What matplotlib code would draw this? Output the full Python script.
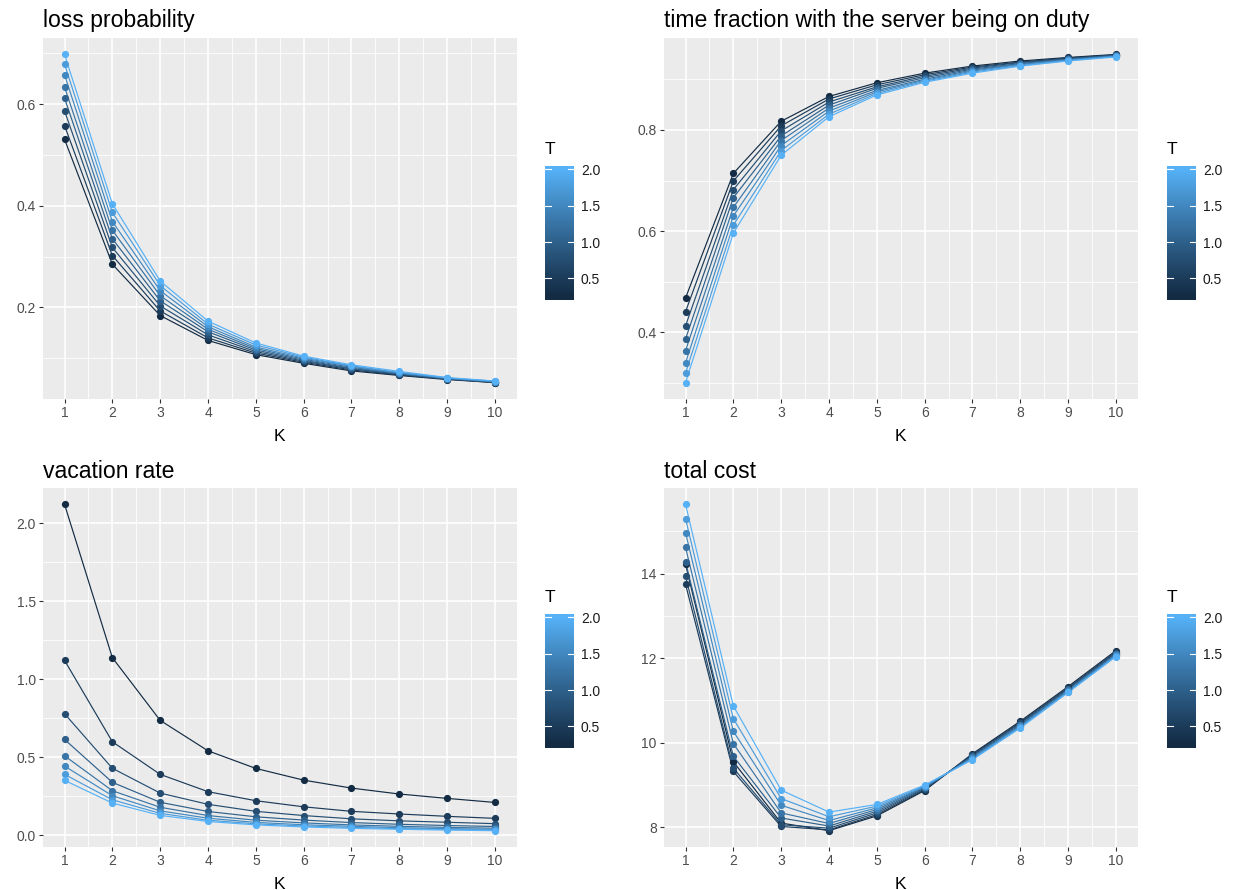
import numpy as np
import matplotlib
matplotlib.use("Agg")
import matplotlib.pyplot as plt
import matplotlib.colors as mcolors
from matplotlib.ticker import FixedLocator, FormatStrFormatter

plt.rcParams['font.family'] = ['Liberation Sans', 'DejaVu Sans']

# ---------------- data ----------------
K = [1, 2, 3, 4, 5, 6, 7, 8, 9, 10]
T = [0.25, 0.5, 0.75, 1.0, 1.25, 1.5, 1.75, 2.0]

# rows: T values, columns: K = 1..10
loss_probability = [
    [0.531, 0.285, 0.184, 0.135, 0.107, 0.090, 0.075, 0.066, 0.058, 0.052],
    [0.558, 0.302, 0.193, 0.140, 0.110, 0.092, 0.077, 0.067, 0.059, 0.052],
    [0.587, 0.318, 0.203, 0.146, 0.113, 0.094, 0.079, 0.068, 0.059, 0.053],
    [0.612, 0.335, 0.213, 0.152, 0.116, 0.096, 0.080, 0.069, 0.060, 0.053],
    [0.634, 0.352, 0.223, 0.157, 0.119, 0.098, 0.082, 0.070, 0.060, 0.054],
    [0.658, 0.369, 0.233, 0.162, 0.122, 0.100, 0.084, 0.071, 0.061, 0.054],
    [0.679, 0.387, 0.243, 0.167, 0.126, 0.102, 0.085, 0.072, 0.061, 0.055],
    [0.698, 0.404, 0.252, 0.173, 0.130, 0.104, 0.087, 0.074, 0.062, 0.055],
]
time_fraction = [
    [0.468, 0.714, 0.817, 0.866, 0.893, 0.912, 0.926, 0.936, 0.943, 0.949],
    [0.441, 0.699, 0.808, 0.861, 0.889, 0.909, 0.924, 0.934, 0.942, 0.948],
    [0.413, 0.682, 0.798, 0.855, 0.885, 0.906, 0.922, 0.933, 0.941, 0.947],
    [0.387, 0.666, 0.788, 0.849, 0.882, 0.903, 0.920, 0.931, 0.940, 0.947],
    [0.364, 0.647, 0.779, 0.843, 0.878, 0.900, 0.918, 0.930, 0.939, 0.946],
    [0.340, 0.630, 0.769, 0.837, 0.875, 0.898, 0.916, 0.929, 0.938, 0.945],
    [0.320, 0.612, 0.759, 0.831, 0.872, 0.896, 0.914, 0.927, 0.937, 0.945],
    [0.301, 0.596, 0.750, 0.826, 0.869, 0.894, 0.912, 0.926, 0.936, 0.944],
]
vacation_rate = [
    [2.120, 1.137, 0.735, 0.540, 0.427, 0.352, 0.301, 0.263, 0.235, 0.209],
    [1.120, 0.598, 0.389, 0.278, 0.220, 0.181, 0.152, 0.135, 0.120, 0.107],
    [0.778, 0.428, 0.269, 0.197, 0.152, 0.125, 0.104, 0.091, 0.082, 0.073],
    [0.613, 0.338, 0.210, 0.151, 0.117, 0.096, 0.080, 0.069, 0.061, 0.055],
    [0.508, 0.284, 0.178, 0.125, 0.095, 0.078, 0.065, 0.056, 0.049, 0.044],
    [0.442, 0.252, 0.155, 0.108, 0.081, 0.066, 0.056, 0.047, 0.041, 0.037],
    [0.389, 0.226, 0.139, 0.095, 0.072, 0.058, 0.049, 0.041, 0.036, 0.032],
    [0.351, 0.205, 0.126, 0.087, 0.065, 0.052, 0.043, 0.037, 0.032, 0.028],
]
total_cost = [
    [14.22, 9.55, 8.10, 7.92, 8.27, 8.87, 9.74, 10.51, 11.33, 12.18],
    [13.75, 9.32, 8.02, 7.94, 8.30, 8.89, 9.72, 10.48, 11.30, 12.15],
    [13.94, 9.40, 8.06, 7.98, 8.34, 8.91, 9.70, 10.46, 11.28, 12.13],
    [14.28, 9.68, 8.22, 8.03, 8.38, 8.93, 9.68, 10.43, 11.26, 12.11],
    [14.62, 9.98, 8.34, 8.09, 8.42, 8.95, 9.66, 10.41, 11.24, 12.09],
    [14.97, 10.27, 8.52, 8.16, 8.46, 8.96, 9.64, 10.39, 11.22, 12.07],
    [15.30, 10.57, 8.68, 8.25, 8.50, 8.98, 9.62, 10.37, 11.20, 12.05],
    [15.64, 10.87, 8.88, 8.36, 8.54, 9.00, 9.60, 10.35, 11.19, 12.04],
]

titles = ["loss probability", "time fraction with the server being on duty",
          "vacation rate", "total cost"]
y_major = [[0.2, 0.4, 0.6], [0.4, 0.6, 0.8], [0.0, 0.5, 1.0, 1.5, 2.0], [8, 10, 12, 14]]
y_minor = [[0.1, 0.3, 0.5, 0.7], [0.3, 0.5, 0.7, 0.9], [0.25, 0.75, 1.25, 1.75], [9, 11, 13, 15]]
y_fmt = ['%.1f', '%.1f', '%.1f', '%d']
cbar_ticks = [0.5, 1.0, 1.5, 2.0]

# ---------------- colour scale (ggplot2 default, Lab interpolation) ----------------
def hex2lab(h):
    rgb = np.array(mcolors.to_rgb(h))
    lin = np.where(rgb <= 0.04045, rgb / 12.92, ((rgb + 0.055) / 1.055) ** 2.4)
    M = np.array([[0.4124564, 0.3575761, 0.1804375],
                  [0.2126729, 0.7151522, 0.0721750],
                  [0.0193339, 0.1191920, 0.9503041]])
    xyz = M @ lin / np.array([0.95047, 1.0, 1.08883])
    d = 6 / 29
    f = np.where(xyz > d ** 3, np.cbrt(xyz), xyz / (3 * d * d) + 4 / 29)
    return np.array([116 * f[1] - 16, 500 * (f[0] - f[1]), 200 * (f[1] - f[2])])

def lab2rgb(lab):
    L, a, b = lab
    fy = (L + 16) / 116
    fx = fy + a / 500
    fz = fy - b / 200
    d = 6 / 29
    f = np.array([fx, fy, fz])
    xyz = np.where(f > d, f ** 3, 3 * d * d * (f - 4 / 29)) * np.array([0.95047, 1.0, 1.08883])
    Minv = np.array([[3.2404542, -1.5371385, -0.4985314],
                     [-0.9692660, 1.8760108, 0.0415560],
                     [0.0556434, -0.2040259, 1.0572252]])
    lin = Minv @ xyz
    lin = np.clip(lin, 0, 1)
    rgb = np.where(lin <= 0.0031308, 12.92 * lin, 1.055 * lin ** (1 / 2.4) - 0.055)
    return np.clip(rgb, 0, 1)

lo, hi = hex2lab('#132B43'), hex2lab('#56B1F7')
cmap = mcolors.ListedColormap([lab2rgb(lo + (hi - lo) * s) for s in np.linspace(0, 1, 256)])
norm = mcolors.Normalize(vmin=min(T), vmax=max(T))

# ---------------- figure ----------------
W, H = 1238, 890
fig = plt.figure(figsize=(W / 100, H / 100), dpi=100)

def fx(x):
    return x / W

def fy(y):
    return 1 - y / H

panel_px = [  # left, right, top, bottom in pixels
    (43, 516.5, 38, 399),
    (664, 1137.5, 38, 399),
    (43, 516.5, 488, 847),
    (664, 1137.5, 488, 847),
]
cbar_px = [  # left, right, top, bottom
    (545, 574, 166, 300),
    (1167, 1196, 166, 300),
    (545, 574, 614, 748),
    (1167, 1196, 614, 748),
]
datasets = [loss_probability, time_fraction, vacation_rate, total_cost]

for p in range(4):
    l, r, t, b = panel_px[p]
    ax = fig.add_axes([fx(l), fy(b), fx(r - l), (b - t) / H])
    data = datasets[p]
    for i, tv in enumerate(T):
        ax.plot(K, data[i], color=cmap(norm(tv)), lw=0.85, zorder=2, solid_capstyle='round')
    for i, tv in enumerate(T):
        ax.plot(K, data[i], 'o', ms=5.2, color=cmap(norm(tv)), mew=0, zorder=3)
    ax.margins(x=0.05, y=0.05)
    ax.set_facecolor('#EBEBEB')
    for s in ax.spines.values():
        s.set_visible(False)
    ax.set_xticks(K)
    ax.xaxis.set_minor_locator(FixedLocator([k + 0.5 for k in K[:-1]]))
    ax.set_yticks(y_major[p])
    ax.yaxis.set_minor_locator(FixedLocator(y_minor[p]))
    ax.yaxis.set_major_formatter(FormatStrFormatter(y_fmt[p]))
    ax.grid(which='major', color='white', lw=1.2)
    ax.grid(which='minor', color='white', lw=0.6)
    ax.set_axisbelow(True)
    ax.tick_params(which='major', length=3.2, width=0.8, color='#333333',
                   labelcolor='#4D4D4D', labelsize=10, pad=2)
    ax.tick_params(which='minor', length=0)
    ax.set_xlabel('K', fontsize=12.5, labelpad=6)
    fig.text(fx(l), fy(t - 17), titles[p], fontsize=16.6, ha='left', va='center')

    # colour bar
    cl, cr, ct, cb = cbar_px[p]
    cax = fig.add_axes([fx(cl), fy(cb), fx(cr - cl), (cb - ct) / H])
    ext = (max(T) - min(T)) * 0.5 / 19
    y0, y1 = min(T) - ext, max(T) + ext
    vals = np.linspace(y1, y0, 300)
    img = cmap(norm(np.clip(vals, min(T), max(T))))[:, None, :]
    cax.imshow(img, aspect='auto', extent=[0, 1, y0, y1], interpolation='bilinear')
    cax.set_xlim(0, 1)
    cax.set_ylim(y0, y1)
    for s in cax.spines.values():
        s.set_visible(False)
    cax.set_xticks([])
    cax.set_yticks(cbar_ticks)
    cax.yaxis.tick_right()
    cax.yaxis.set_major_formatter(FormatStrFormatter('%.1f'))
    cax.tick_params(axis='y', length=0, labelsize=10, pad=5, labelcolor='#1A1A1A')
    for tk in cbar_ticks:
        cax.plot([0, 0.2], [tk, tk], color='white', lw=0.8)
        cax.plot([0.8, 1], [tk, tk], color='white', lw=0.8)
    fig.text(fx(cl), fy(ct - 16), 'T', fontsize=12.5, ha='left', va='center')

fig.savefig('out.png', dpi=100, facecolor='white')
